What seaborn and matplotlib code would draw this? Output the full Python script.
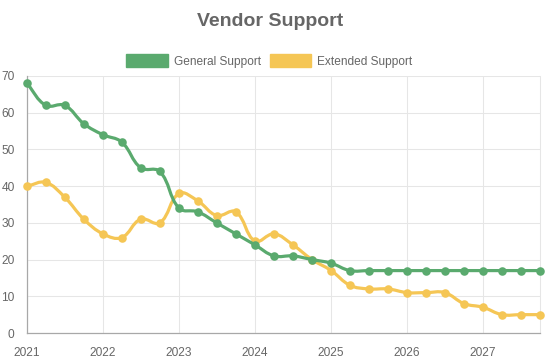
import numpy as np
import pandas as pd
import matplotlib
matplotlib.use("Agg")
import matplotlib.pyplot as plt
import matplotlib.dates as mdates
from matplotlib.path import Path
from matplotlib.patches import PathPatch, Patch
import seaborn as sns

# ---------------- data ----------------
quarters = ["2021-01-01", "2021-04-01", "2021-07-01", "2021-10-01",
            "2022-01-01", "2022-04-01", "2022-07-01", "2022-10-01",
            "2023-01-01", "2023-04-01", "2023-07-01", "2023-10-01",
            "2024-01-01", "2024-04-01", "2024-07-01", "2024-10-01",
            "2025-01-01", "2025-04-01", "2025-07-01", "2025-10-01",
            "2026-01-01", "2026-04-01", "2026-07-01", "2026-10-01",
            "2027-01-01", "2027-04-01", "2027-07-01", "2027-10-01"]
general_support = [68, 62, 62, 57, 54, 52, 45, 44, 34, 33, 30, 27, 24, 21,
                   21, 20, 19, 17, 17, 17, 17, 17, 17, 17, 17, 17, 17, 17]
extended_support = [40, 41, 37, 31, 27, 26, 31, 30, 38, 36, 32, 33, 25, 27,
                    24, 20, 17, 13, 12, 12, 11, 11, 11, 8, 7, 5, 5, 5]
series_names = ["General Support", "Extended Support"]
year_ticks = ["2021", "2022", "2023", "2024", "2025", "2026", "2027"]
title = "Vendor Support"

GREEN = "#5AAA6E"
YELLOW = "#F5C655"
TEXT = "#666666"
GRID = "#e6e6e6"

df = pd.DataFrame({
    "date": pd.to_datetime(quarters * 2),
    "value": general_support + extended_support,
    "series": [series_names[0]] * len(quarters) + [series_names[1]] * len(quarters),
})

sns.set_style("white")
plt.rcParams["font.family"] = ["Liberation Sans", "DejaVu Sans"]

W, H = 546, 363
fig = plt.figure(figsize=(W / 100, H / 100), dpi=100)
L, R, T, B = 27, 540, 76, 333
ax = fig.add_axes([L / W, 1 - B / H, (R - L) / W, (B - T) / H])

xdates = pd.to_datetime(quarters)
ax.set_xlim(mdates.date2num(xdates[0]), mdates.date2num(xdates[-1]))
ax.set_ylim(0, 70)


def smooth_path(xd, yd, tension=0.4):
    pts = ax.transData.transform(np.column_stack([xd, yd]))
    n = len(pts)
    cp_prev = np.zeros_like(pts)
    cp_next = np.zeros_like(pts)
    for i in range(n):
        p0 = pts[i - 1] if i > 0 else pts[i]
        p1 = pts[i]
        p2 = pts[i + 1] if i < n - 1 else pts[i]
        d01 = np.hypot(*(p1 - p0))
        d12 = np.hypot(*(p2 - p1))
        tot = d01 + d12
        s01 = d01 / tot if tot else 0
        s12 = d12 / tot if tot else 0
        cp_prev[i] = p1 - tension * s01 * (p2 - p0)
        cp_next[i] = p1 + tension * s12 * (p2 - p0)
    verts = [pts[0]]
    codes = [Path.MOVETO]
    for i in range(n - 1):
        verts += [cp_next[i], cp_prev[i + 1], pts[i + 1]]
        codes += [Path.CURVE4] * 3
    inv = ax.transData.inverted()
    return Path(inv.transform(np.array(verts)), codes)


xnum = mdates.date2num(xdates)
for vals, col, z in [(extended_support, YELLOW, 2), (general_support, GREEN, 4)]:
    ax.add_patch(PathPatch(smooth_path(xnum, np.array(vals, float)),
                           facecolor="none", edgecolor=col, lw=2.3,
                           zorder=z, capstyle="round", joinstyle="round",
                           clip_on=False))

for name, col, z in [(series_names[1], YELLOW, 3), (series_names[0], GREEN, 5)]:
    sub = df[df["series"] == name]
    sns.scatterplot(x=mdates.date2num(sub["date"]), y=sub["value"].values, ax=ax,
                    color=col, s=38, linewidth=0, zorder=z, legend=False,
                    clip_on=False)

ax.set_xlim(mdates.date2num(xdates[0]), mdates.date2num(xdates[-1]))
ax.set_ylim(0, 70)

# ticks & grid
ax.set_xticks([mdates.date2num(pd.Timestamp(y + "-01-01")) for y in year_ticks])
ax.set_xticklabels(year_ticks)
ax.set_yticks(range(0, 71, 10))
ax.tick_params(axis="both", color=GRID, labelcolor=TEXT,
               labelsize=8.6, width=0.75)
ax.tick_params(axis="y", length=7, pad=2)
ax.tick_params(axis="x", length=7, pad=3)
ax.grid(True, color=GRID, lw=0.75, alpha=1)
ax.set_axisbelow(True)
for s in ["left", "bottom"]:
    ax.spines[s].set_color("#a8a8a8")
    ax.spines[s].set_linewidth(0.9)
ax.spines["top"].set_visible(False)
ax.spines["right"].set_color(GRID)
ax.spines["right"].set_linewidth(0.75)
ax.set_xlabel("")
ax.set_ylabel("")

fig.text(270 / W, 1 - 22 / H, title, ha="center", va="center",
         fontsize=14, fontweight="bold", color=TEXT)

handles = [Patch(facecolor=GREEN, edgecolor=GREEN), Patch(facecolor=YELLOW, edgecolor=YELLOW)]
fig.legend(handles, series_names, loc="center", bbox_to_anchor=(269.5 / W, 1 - 61 / H),
           ncol=2, frameon=False, fontsize=8.6, labelcolor=TEXT,
           handlelength=3.5, handleheight=1.2, handletextpad=0.5,
           columnspacing=0.7, borderpad=0, borderaxespad=0)

fig.savefig("out.png", dpi=100)
